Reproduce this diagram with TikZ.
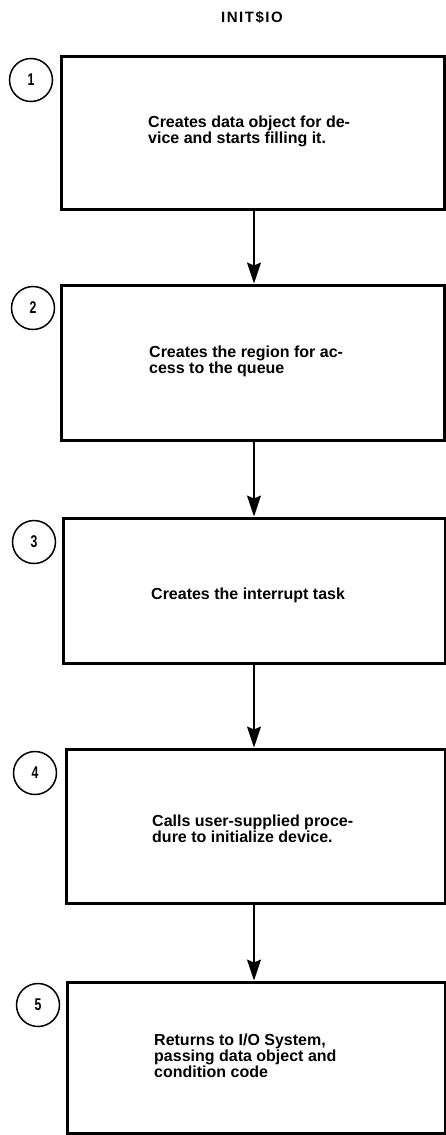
\documentclass[tikz,border=0pt]{standalone}
\usepackage{fontspec}
\setmainfont{Liberation Sans}
\newfontfamily\numfont{Liberation Sans}[FakeStretch=0.72]
\newfontfamily\titlefont{Liberation Sans}[LetterSpace=10]
\usetikzlibrary{arrows.meta}

\begin{document}
\begin{tikzpicture}[x=1pt,y=-1pt,
  stepbox/.style={draw, line width=3pt, inner sep=0pt},
  desc/.style={anchor=west, align=left, inner sep=0pt,
    font=\bfseries\fontsize{16}{13.6}\selectfont},
  numcirc/.style={draw, circle, line width=1.5pt, minimum size=43pt,
    inner sep=0pt, font=\numfont\bfseries\fontsize{17}{17}\selectfont},
  flow/.style={line width=1.4pt, -{Stealth[length=21pt,width=14pt,inset=3pt]}}]

\useasboundingbox (0,0) rectangle (446,1135);

% title
\node[font=\titlefont\bfseries\fontsize{15}{15}\selectfont] (title) at (252,17) {INIT\$IO};

% process boxes
\node[stepbox, minimum width=383pt, minimum height=153pt] (b1) at (252.5,132.5) {};
\node[stepbox, minimum width=383pt, minimum height=155pt] (b2) at (252.5,362.5) {};
\node[stepbox, minimum width=382pt, minimum height=145pt] (b3) at (254,590.5) {};
\node[stepbox, minimum width=379pt, minimum height=154pt] (b4) at (255.5,826) {};
\node[stepbox, minimum width=378pt, minimum height=151pt] (b5) at (256,1057.5) {};

% box texts
\node[desc] (t1) at (148,131) {Creates data object for de-\\vice and starts filling it.};
\node[desc] (t2) at (149,361.5) {Creates the region for ac-\\cess to the queue};
\node[desc] (t3) at (151,595) {Creates the interrupt task};
\node[desc] (t4) at (152,828.5) {Calls user-supplied proce-\\dure to initialize device.};
\node[desc] (t5) at (154,1056) {Returns to I/O System,\\passing data object and\\condition code};

% step numbers
\node[numcirc] (c1) at (31,80) {1};
\node[numcirc] (c2) at (33,308) {2};
\node[numcirc] (c3) at (34,542) {3};
\node[numcirc] (c4) at (35,773) {4};
\node[numcirc] (c5) at (38,1005) {5};

% flow arrows along a common vertical axis
\coordinate (ax) at (254,0);
\draw[flow] (b1.south -| ax) -- (b2.north -| ax);
\draw[flow] (b2.south -| ax) -- (b3.north -| ax);
\draw[flow] (b3.south -| ax) -- (b4.north -| ax);
\draw[flow] (b4.south -| ax) -- (b5.north -| ax);
\end{tikzpicture}
\end{document}
